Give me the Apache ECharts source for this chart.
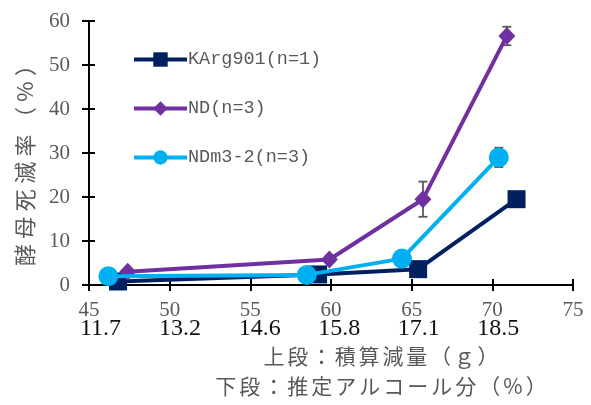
<!DOCTYPE html>
<html>
<head>
<meta charset="utf-8">
<script src="https://cdn.jsdelivr.net/npm/echarts@6/dist/echarts.min.js"></script>
<style>
html,body{margin:0;padding:0;background:#fff;}
#c{width:591px;height:405px;}
</style>
</head>
<body>
<div id="c"></div>
<script>
// ---- data ----
var seriesNames = ['KArg901(n=1)', 'ND(n=3)', 'NDm3-2(n=3)'];
var karX = [46.8, 59.2, 65.4, 71.5];
var karY = [0.8, 2.4, 3.6, 19.5];
var ndX = [47.4, 59.9, 65.7, 70.9];
var ndY = [3.0, 5.8, 19.5, 56.6];
var ndErr = [0, 0, 4.0, 2.1];
var ndmX = [46.2, 58.5, 64.4, 70.4];
var ndmY = [2.0, 2.3, 6.0, 29.0];
var ndmErr = [0, 0, 0, 2.2];
var xTicks = [45, 50, 55, 60, 65, 70, 75];
var xTicks2 = ['11.7', '13.2', '14.6', '15.8', '17.1', '18.5', ''];
var xTitle1 = '上段：積算減量（ｇ）';
var xTitle2 = '下段：推定アルコール分（%）';
var yTitle = '酵母死滅率（%）';

var colors = ['#002060', '#7030A0', '#00B0F0'];
var gray = '#595959';

function pairs(xs, ys) { return xs.map(function (x, i) { return [x, ys[i]]; }); }
function errData(xs, ys, es) {
  var out = [];
  xs.forEach(function (x, i) { if (es[i] > 0) out.push([x, ys[i] - es[i], ys[i] + es[i]]); });
  return out;
}
function errSeries(data) {
  return {
    type: 'custom', xAxisIndex: 0, yAxisIndex: 0, z: 1, silent: true,
    renderItem: function (params, api) {
      var x = api.value(0);
      var lo = api.coord([x, api.value(1)]);
      var hi = api.coord([x, api.value(2)]);
      var w = 4.5;
      var st = { stroke: gray, lineWidth: 1.8 };
      return {
        type: 'group', children: [
          { type: 'line', shape: { x1: lo[0], y1: lo[1], x2: hi[0], y2: hi[1] }, style: st },
          { type: 'line', shape: { x1: lo[0] - w, y1: lo[1], x2: lo[0] + w, y2: lo[1] }, style: st },
          { type: 'line', shape: { x1: hi[0] - w, y1: hi[1], x2: hi[0] + w, y2: hi[1] }, style: st }
        ]
      };
    },
    data: data
  };
}
// spaced text via rich tokens (letter spacing)
function spaced(str) {
  return Array.from(str).map(function (ch) { return '{c|' + ch + '}'; }).join('');
}
function spacedText(str, x, y, size, pad, rot) {
  var el = {
    type: 'text', x: x, y: y,
    style: {
      text: spaced(str), x: 0, y: 0, align: 'center', verticalAlign: 'middle',
      fill: gray, fontFamily: 'Noto Sans CJK JP', fontSize: size,
      rich: { c: { fontFamily: 'Noto Sans CJK JP', fontSize: size, color: gray, padding: [0, pad, 0, pad] } }
    }
  };
  if (rot) el.rotation = rot;
  return el;
}

var chart = echarts.init(document.getElementById('c'));
var axisCommon = {
  type: 'value',
  axisLine: { show: true, lineStyle: { color: '#000', width: 2 } },
  splitLine: { show: false }
};
var xBase = Object.assign({}, axisCommon, { min: 45, max: 75, interval: 5, position: 'bottom' });
var yBase = Object.assign({}, axisCommon, { min: 0, max: 60, interval: 10, position: 'left' });

var richX = {
  a: { fontFamily: 'Liberation Serif', fontSize: 21, color: gray, lineHeight: 20 }
};
for (var k = 0; k < 7; k++) {
  richX['b' + k] = { fontFamily: 'Liberation Serif', fontSize: 24, color: '#111', lineHeight: 18, padding: [0, 0, 0, Math.max(0, 23 - 2.2 * k)] };
}

chart.setOption({
  animation: false,
  grid: { left: 89, right: 18, top: 21, bottom: 120, containLabel: false },
  legend: {
    orient: 'vertical', left: 127, top: 45, itemWidth: 53, itemHeight: 18, itemGap: 30,
    data: seriesNames,
    lineStyle: { width: 4 },
    textStyle: { fontFamily: 'Liberation Mono', fontSize: 18.5, color: gray, padding: [0, 0, 0, -4] }
  },
  xAxis: [
    Object.assign({}, xBase, {
      axisTick: { show: true, inside: false, length: 6, lineStyle: { color: '#000', width: 2 } },
      axisLabel: {
        margin: 15,
        formatter: function (v) {
          var i = xTicks.indexOf(v);
          return '{a|' + v + '}\n{b' + i + '|' + (i >= 0 ? xTicks2[i] : '') + '}';
        },
        rich: richX
      }
    }),
    Object.assign({}, xBase, {
      axisTick: { show: true, inside: true, length: 6, lineStyle: { color: '#000', width: 2 } },
      axisLabel: { show: false }
    })
  ],
  yAxis: [
    Object.assign({}, yBase, {
      axisTick: { show: true, inside: false, length: 7, lineStyle: { color: '#000', width: 2 } },
      axisLabel: { margin: 19, fontFamily: 'Liberation Serif', fontSize: 21, color: gray }
    }),
    Object.assign({}, yBase, {
      axisTick: { show: true, inside: true, length: 6, lineStyle: { color: '#000', width: 2 } },
      axisLabel: { show: false }
    })
  ],
  graphic: [
    spacedText(xTitle1, 381, 356, 21, 1.4, 0),
    spacedText(xTitle2, 381, 386, 21, 1.5, 0),
    spacedText(yTitle, 25, 160, 22, 2.7, Math.PI / 2)
  ],
  series: [
    errSeries(errData(ndX, ndY, ndErr)),
    errSeries(errData(ndmX, ndmY, ndmErr)),
    {
      name: seriesNames[0], type: 'line', z: 2, data: pairs(karX, karY),
      symbol: 'rect', symbolSize: 18, itemStyle: { color: colors[0] },
      lineStyle: { color: colors[0], width: 4 }
    },
    {
      name: seriesNames[1], type: 'line', z: 3, data: pairs(ndX, ndY),
      symbol: 'diamond', symbolSize: [17, 18], itemStyle: { color: colors[1] },
      lineStyle: { color: colors[1], width: 4 }
    },
    {
      name: seriesNames[2], type: 'line', z: 4, data: pairs(ndmX, ndmY),
      symbol: 'circle', symbolSize: 20, itemStyle: { color: colors[2] },
      lineStyle: { color: colors[2], width: 4 }
    }
  ]
});
</script>
</body>
</html>
